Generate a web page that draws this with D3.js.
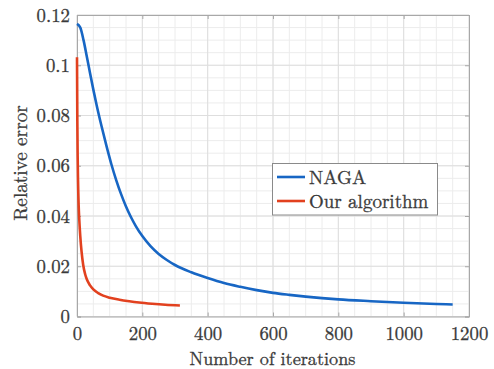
<!DOCTYPE html>
<html><head><meta charset="utf-8">
<script src="https://cdn.jsdelivr.net/npm/d3@7"></script>
<style>
body{margin:0;background:#fff;}
</style></head><body>
<svg id="chart" width="494" height="369"></svg>
<script>
const nagaIter = [0,10,20,30,40,50,60,75,90,105,120,135,150,165,180,200,225,250,275,300,350,400,450,500,550,600,650,700,800,900,1000,1100,1150];
const nagaErr  = [0.1165,0.1150,0.1100,0.1035,0.0968,0.0903,0.0842,0.0758,0.0680,0.0607,0.0543,0.0487,0.0438,0.0396,0.0360,0.0320,0.0280,0.0249,0.0225,0.0205,0.0176,0.0153,0.0133,0.0118,0.0105,0.0094,0.0086,0.0079,0.0068,0.0061,0.0055,0.0050,0.0048];
const oursIter = [0,1,2,3,5,7,10,14,19,25,30,40,50,65,80,100,130,160,190,230,270,315];
const oursErr  = [0.1032,0.078,0.064,0.055,0.0445,0.0385,0.0320,0.0258,0.0205,0.0168,0.0148,0.0124,0.0108,0.0093,0.0083,0.0075,0.0067,0.0061,0.0056,0.0051,0.0047,0.0044];
const xTicks = [0,200,400,600,800,1000,1200];
const yTicks = [0,0.02,0.04,0.06,0.08,0.1,0.12];
const yTickLabels = ["0","0.02","0.04","0.06","0.08","0.1","0.12"];
const seriesNames = ["NAGA","Our algorithm"];
const seriesColors = ["#1766c4","#e2411f"];

const FONT = '"Latin Modern Roman","CMU Serif","Liberation Serif",serif';
const TXT = "#3a3a3a";
const svg = d3.select("#chart");
const L=77, R=469, T=15, B=316.5;
const x = d3.scaleLinear().domain([0,1200]).range([L,R]);
const y = d3.scaleLinear().domain([0,0.12]).range([B,T]);

const g = svg.append("g");
const xMinor = d3.range(0,1201,50), yMinor = d3.range(0,0.1201,0.005);
g.selectAll(".xm").data(xMinor).enter().append("line")
 .attr("x1",d=>x(d)).attr("x2",d=>x(d)).attr("y1",T).attr("y2",B)
 .attr("stroke","#ececec").attr("stroke-width",1);
g.selectAll(".ym").data(yMinor).enter().append("line")
 .attr("x1",L).attr("x2",R).attr("y1",d=>y(d)).attr("y2",d=>y(d))
 .attr("stroke","#ececec").attr("stroke-width",1);
g.selectAll(".xg").data(xTicks).enter().append("line")
 .attr("x1",d=>x(d)).attr("x2",d=>x(d)).attr("y1",T).attr("y2",B)
 .attr("stroke","#dedede").attr("stroke-width",1);
g.selectAll(".yg").data(yTicks).enter().append("line")
 .attr("x1",L).attr("x2",R).attr("y1",d=>y(d)).attr("y2",d=>y(d))
 .attr("stroke","#dedede").attr("stroke-width",1);

const axisCol="#a8a8a8";
const xAxis = d3.axisBottom(x).tickValues(xTicks).tickSize(-4).tickPadding(10).tickFormat(d3.format("d"));
const yAxis = d3.axisLeft(y).tickValues(yTicks).tickSize(-4).tickPadding(7).tickFormat((d,i)=>yTickLabels[i]);
const gx = svg.append("g").attr("transform",`translate(0,${B})`).call(xAxis);
const gy = svg.append("g").attr("transform",`translate(${L},0)`).call(yAxis);
const gxt = svg.append("g").attr("transform",`translate(0,${T})`).call(d3.axisTop(x).tickValues(xTicks).tickSize(-4).tickFormat(""));
const gyr = svg.append("g").attr("transform",`translate(${R},0)`).call(d3.axisRight(y).tickValues(yTicks).tickSize(-4).tickFormat(""));
[gx,gy,gxt,gyr].forEach(a=>{a.select(".domain").attr("stroke",axisCol);a.selectAll(".tick line").attr("stroke",axisCol);});
[gx,gy].forEach(a=>a.selectAll(".tick text").style("font-family",FONT).attr("font-size",18.8).attr("fill",TXT)
  .attr("stroke",TXT).attr("stroke-width",0.3));

const line = d3.line().x(d=>x(d[0])).y(d=>y(d[1])).curve(d3.curveMonotoneX);
const series = [d3.zip(nagaIter,nagaErr), d3.zip(oursIter,oursErr)];
svg.selectAll(".ser").data(series).enter().append("path")
 .attr("d",line).attr("fill","none").attr("stroke",(d,i)=>seriesColors[i]).attr("stroke-width",2.6);

function label(sel){return sel.style("font-family",FONT).attr("fill",TXT).attr("stroke",TXT).attr("stroke-width",0.3);}
label(svg.append("text").attr("x",272.5).attr("y",364.5).attr("text-anchor","middle").attr("font-size",18.2)).text("Number of iterations");
label(svg.append("text").attr("transform",`translate(27,163) rotate(-90)`).attr("text-anchor","middle").attr("font-size",19.2)).text("Relative error");

const lg = svg.append("g");
lg.append("rect").attr("x",272.5).attr("y",163.5).attr("width",165).attr("height",51.5).attr("fill","#fff").attr("stroke","#8a8a8a").attr("stroke-width",1);
seriesNames.forEach((n,i)=>{
  const yy = 177 + i*24;
  lg.append("line").attr("x1",277).attr("x2",305).attr("y1",yy).attr("y2",yy).attr("stroke",seriesColors[i]).attr("stroke-width",2.6);
  label(lg.append("text").attr("x",309).attr("y",yy+6.5).attr("font-size",19)).text(n);
});
</script></body></html>
